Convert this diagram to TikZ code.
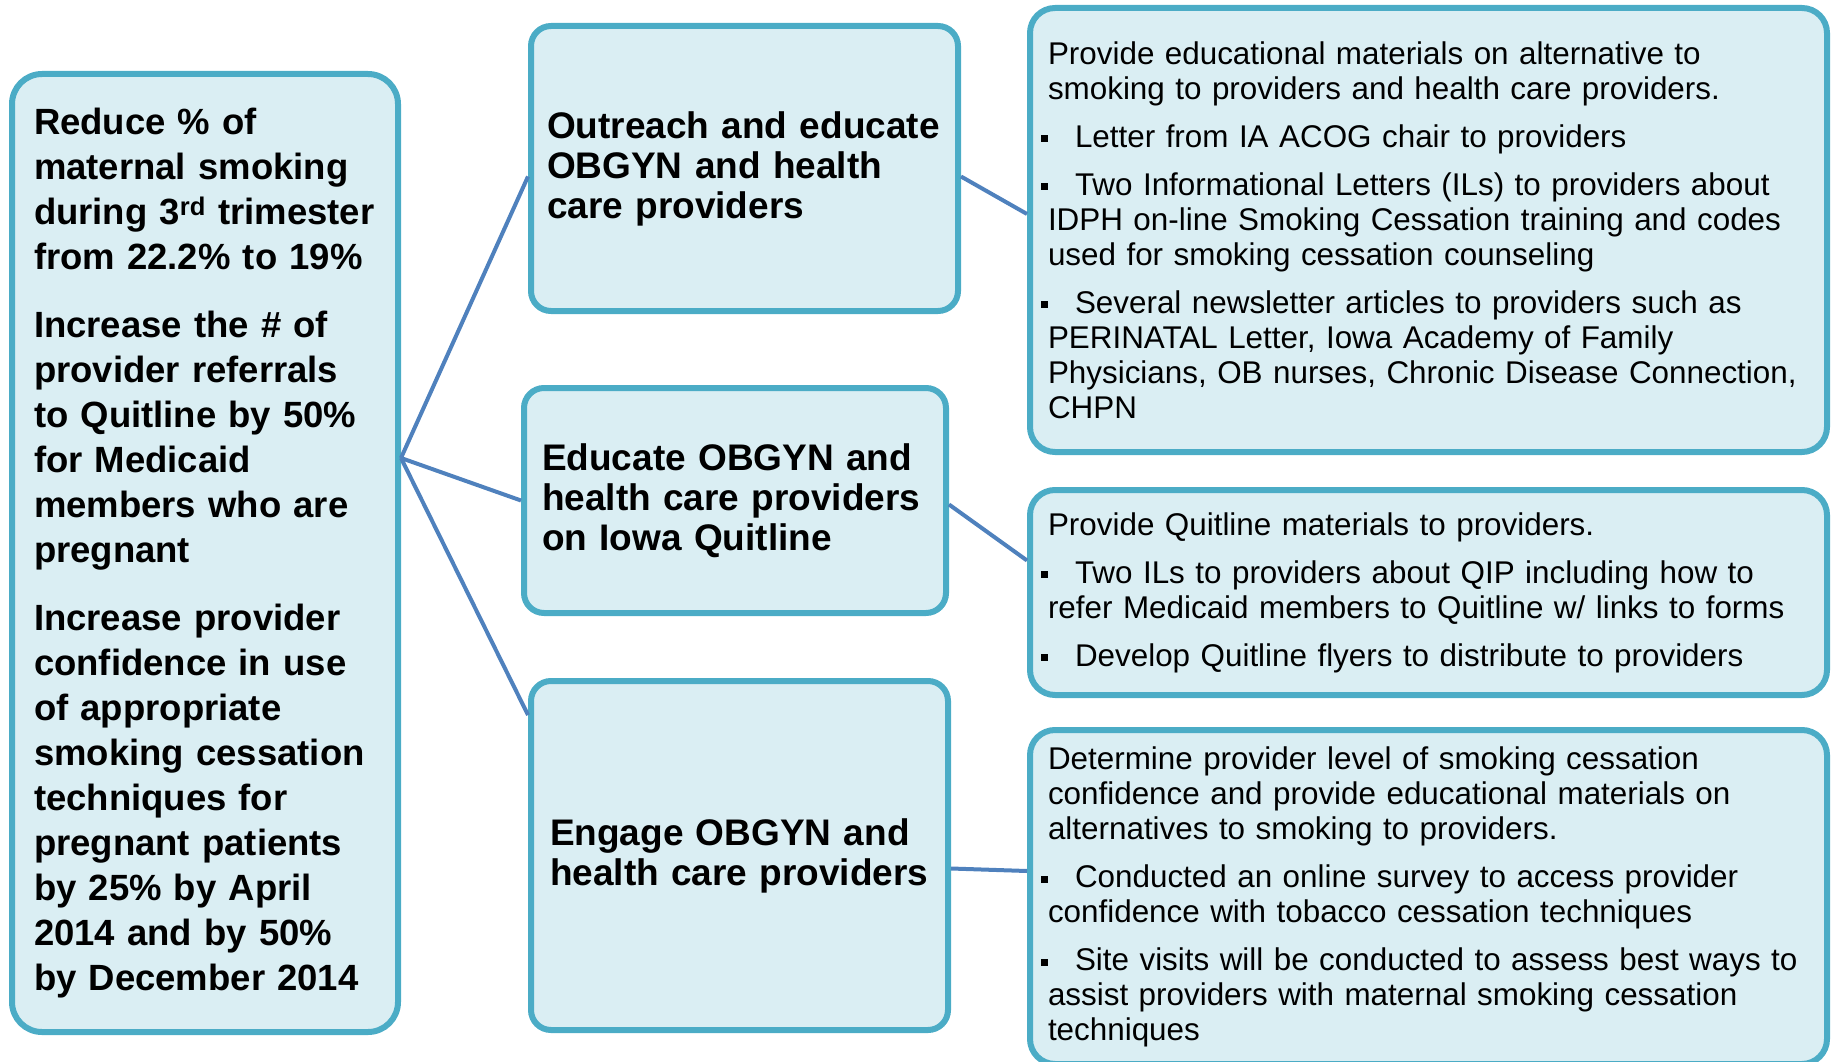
\documentclass[tikz,border=0pt]{standalone}
\usepackage{fontspec}
\setmainfont{Liberation Sans}
\hyphenpenalty=10000
\definecolor{boxfill}{HTML}{DAEEF3}
\definecolor{boxline}{HTML}{4BACC6}
\definecolor{linkblue}{HTML}{4F81BD}
\newcommand{\sqb}{\hspace*{-7pt}\raisebox{5pt}{\rule{7pt}{7pt}}\hspace{27pt}}
\tikzset{
  goalbox/.style={draw=boxline, fill=boxfill, line width=6pt, rounded corners=30pt, align=left},
  stepbox/.style={draw=boxline, fill=boxfill, line width=6pt, rounded corners=20pt, align=left,
    font=\bfseries\fontsize{37}{40}\selectfont},
  actbox/.style={draw=boxline, fill=boxfill, line width=6pt, rounded corners=25pt, align=left,
    text width=761pt, minimum width=797pt, font=\fontsize{31.4}{35}\selectfont},
  link/.style={draw=linkblue, line width=4pt}
}
\begin{document}
\begin{tikzpicture}[x=1pt, y=-1pt]
\useasboundingbox (0,0) rectangle (1831,1062);
\node[goalbox, minimum width=386pt, minimum height=958pt, text width=342pt,
  font=\bfseries\fontsize{36.5}{45}\selectfont] (goal) at (205,553)
  {Reduce \% of\\ maternal smoking\\ during 3\textsuperscript{rd} trimester\\ from 22.2\% to 19\%\\[23pt]
   Increase the \# of\\ provider referrals\\ to Quitline by 50\%\\ for Medicaid\\ members who are\\ pregnant\\[23pt]
   Increase provider\\ confidence in use\\ of appropriate\\ smoking cessation\\ techniques for\\ pregnant patients\\ by 25\% by April\\ 2014 and by 50\%\\ by December 2014};
\node[stepbox, minimum width=427pt, minimum height=285pt, text width=395pt] (step1) at (744.5,168.5)
  {Outreach and educate\\ OBGYN and health\\ care providers};
\node[stepbox, minimum width=422pt, minimum height=225pt, text width=386pt] (step2) at (735,500.5)
  {Educate OBGYN and\\ health care providers\\ on Iowa Quitline};
\node[stepbox, minimum width=417pt, minimum height=349pt, text width=379pt] (step3) at (739.5,855.5)
  {Engage OBGYN and\\ health care providers};
\node[actbox, minimum height=444pt] (act1) at (1428.5,230)
  {Provide educational materials on alternative to\\ smoking to providers and health care providers.\\[13pt]
   \sqb Letter from IA ACOG chair to providers\\[13pt]
   \sqb Two Informational Letters (ILs) to providers about\\ IDPH on-line Smoking Cessation training and codes\\ used for smoking cessation counseling\\[13pt]
   \sqb Several newsletter articles to providers such as\\ PERINATAL Letter, Iowa Academy of Family\\ Physicians, OB nurses, Chronic Disease Connection,\\ CHPN};
\node[actbox, minimum height=205pt] (act2) at (1428.5,592.5)
  {Provide Quitline materials to providers.\\[13pt]
   \sqb Two ILs to providers about QIP including how to\\ refer Medicaid members to Quitline w/ links to forms\\[13pt]
   \sqb Develop Quitline flyers to distribute to providers};
\node[actbox, minimum height=334pt] (act3) at (1428.5,897)
  {Determine provider level of smoking cessation\\ confidence and provide educational materials on\\ alternatives to smoking to providers.\\[13pt]
   \sqb Conducted an online survey to access provider\\ confidence with tobacco cessation techniques\\[13pt]
   \sqb Site visits will be conducted to assess best ways to\\ assist providers with maternal smoking cessation\\ techniques};
\coordinate (hub) at ([yshift=95pt]goal.east);
\draw[link] (hub) -- ([yshift=-8pt]step1.west);
\draw[link] (hub) -- (step2.west);
\draw[link] (hub) -- ([yshift=-37pt]step3.north west);
\draw[link] ([yshift=-8pt]step1.east) -- ([yshift=16pt]act1.west);
\draw[link] ([yshift=-4pt]step2.east) -- ([yshift=32pt]act2.west);
\draw[link] ([yshift=-13pt]step3.east) -- ([yshift=26pt]act3.west);
\end{tikzpicture}
\end{document}
